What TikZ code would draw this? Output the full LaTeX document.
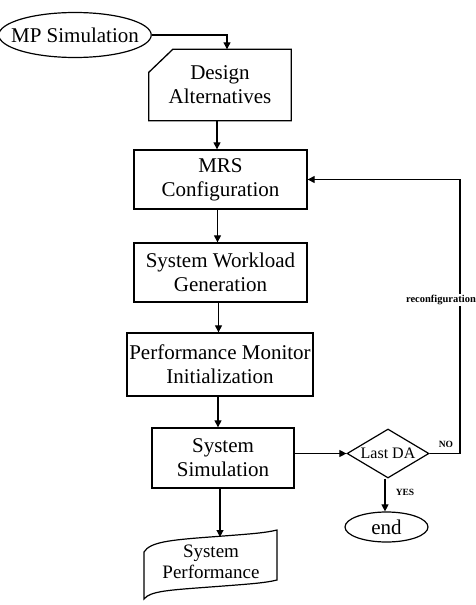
\documentclass[tikz,border=0pt]{standalone}
\usepackage{fontspec}
\setmainfont{Liberation Serif}
\usetikzlibrary{arrows.meta,shapes.geometric}

\tikzset{
  every picture/.style={x=1pt,y=-1pt},
  line/.style={line width=1.1pt},
  flow/.style={line, -{Triangle[length=7pt,width=7pt]}},
  stepbox/.style={draw, line width=1.3pt, align=center, inner sep=0pt,
    font=\fontsize{21}{24}\selectfont},
  plain/.style={align=center, inner sep=0pt, font=\fontsize{21}{24}\selectfont},
  terminal/.style={draw, ellipse, line width=1.2pt, inner sep=0pt,
    font=\fontsize{21}{24}\selectfont},
  tag/.style={inner sep=1pt, font=\bfseries\fontsize{9.5}{11}\selectfont},
}

\begin{document}
\begin{tikzpicture}
\useasboundingbox (0,0) rectangle (475,605);

% start terminal (negative xsep keeps the ellipse close around the text)
\node[terminal, inner xsep=-10pt, minimum width=146pt, minimum height=45pt] (mp) at (75,35) {MP Simulation};

% card holding the design alternatives (clipped top-left corner)
\node[plain, minimum width=142pt, minimum height=71pt] (design) at (220,85) {Design\\Alternatives};
\draw[line width=1.3pt] ([xshift=24pt]design.north west) -- (design.north east)
  -- (design.south east) -- (design.south west)
  -- ([yshift=-23pt]design.north west) -- cycle;

% process steps
\node[stepbox, minimum width=173pt, minimum height=59pt] (mrs) at (220.5,179.5) {MRS\\Configuration};
\node[stepbox, minimum width=173pt, minimum height=59pt] (swg) at (220.5,272.5) {System Workload\\Generation};
\node[stepbox, minimum width=186pt, minimum height=63pt] (pmi) at (220,364.5) {Performance Monitor\\Initialization};
\node[stepbox, minimum width=142pt, minimum height=60pt] (ss) at (223,458) {System\\Simulation};

% decision
\node[draw, diamond, aspect=1.67, line width=1.2pt, inner sep=0pt,
      minimum width=82pt, minimum height=49pt,
      font=\fontsize{16}{18}\selectfont] (last) at (388,453.5) {Last DA};

% end terminal
\node[terminal, minimum width=83pt, minimum height=30pt] (fin) at (386.5,527) {end};

% output document with wavy edges
\node[plain, font=\fontsize{19}{21}\selectfont] (perf) at (211,562) {System\\Performance};
\draw[line width=1.2pt] (144,552) .. controls (150,542) and (170,540) .. (210,537)
  .. controls (250,534) and (265,533) .. (277,530) -- (277,580)
  .. controls (265,583) and (250,584) .. (210,587)
  .. controls (170,590) and (150,591) .. (144,599) -- cycle;
\coordinate (perftop) at (220,537);

% connectors
\draw[flow] (mp.east) -| ([xshift=7pt]design.north);
\draw[flow] ([xshift=-3pt]design.south) -- ([xshift=-3pt]design.south |- mrs.north);
\draw[flow] ([xshift=-3pt]mrs.south) -- ([xshift=-3pt]mrs.south |- swg.north);
\draw[flow] ([xshift=-2pt]swg.south) -- ([xshift=-2pt]swg.south |- pmi.north);
\draw[flow] ([xshift=-2pt]pmi.south) -- ([xshift=-2pt]pmi.south |- ss.north);
\draw[flow] (last.west -| ss.east) -- (last.west);
\draw[flow] ([xshift=-3pt]last.south) -- ([xshift=-3pt]last.south |- fin.north);
\draw[flow] (ss.south -| perftop) -- (perftop);

\coordinate (turn) at (460,453.5);
\draw[flow] (last.east) -- (turn) |- (mrs.east);

% connector labels
\node[tag, fill=white, font=\bfseries\fontsize{10.5}{12}\selectfont] (reconf) at (441,300) {reconfiguration};
\node[tag] (no) at (446,444) {NO};
\node[tag] (yes) at (405,492) {YES};
\end{tikzpicture}
\end{document}
